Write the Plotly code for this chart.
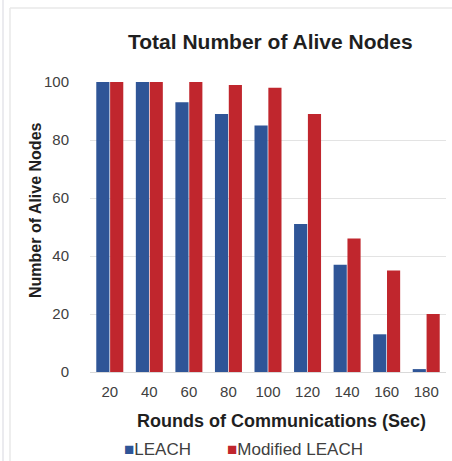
import plotly.graph_objects as go

rounds = ["20", "40", "60", "80", "100", "120", "140", "160", "180"]
leach = [100, 100, 93, 89, 85, 51, 37, 13, 1]
modified_leach = [100, 100, 100, 99, 98, 89, 46, 35, 20]
y_ticks = [0, 20, 40, 60, 80, 100]

BLUE = "#2F5597"
RED = "#C0262D"

W, H = 452, 461
L, R, T, B = 90, 6, 82, 89
pw, ph = W - L - R, H - T - B

def px(x):
    return (x - L) / pw

def py(y):
    return (H - B - y) / ph

fig = go.Figure()
fig.add_trace(go.Bar(x=rounds, y=leach, name="LEACH", marker=dict(color=BLUE, line=dict(width=0))))
fig.add_trace(go.Bar(x=rounds, y=modified_leach, name="Modified LEACH", marker=dict(color=RED, line=dict(width=0))))

fig.update_layout(
    width=W, height=H,
    margin=dict(l=L, r=R, t=T, b=B, pad=0),
    paper_bgcolor="white", plot_bgcolor="white",
    barmode="group", bargap=0.3, bargroupgap=0.05,
    showlegend=False,
    font=dict(family="Liberation Sans, Arial, sans-serif", size=15, color="#595959"),
    xaxis=dict(type="category", showgrid=False, showline=True, linecolor="#D9D9D9", linewidth=1,
               ticks="", tickfont=dict(size=15, color="#404040"), ticklabelstandoff=6),
    yaxis=dict(range=[0, 100], tickvals=y_ticks, showgrid=True, gridcolor="#E3E3E3", gridwidth=1,
               zeroline=False, showline=False, ticks="", tickfont=dict(size=15, color="#404040"),
               ticklabelstandoff=20),
)

annos = [
    dict(text="<b>Total Number of Alive Nodes</b>", x=px(270), y=py(41), font=dict(size=21, color="#1F1F1F")),
    dict(text="<b>Number of Alive Nodes</b>", x=px(35), y=py(210), textangle=-90, font=dict(size=16, color="#1F1F1F")),
    dict(text="<b>Rounds of Communications (Sec)</b>", x=px(281), y=py(421), font=dict(size=18, color="#1F1F1F")),
    dict(text=f"<span style='color:{BLUE}'>■</span>LEACH", x=px(157), y=py(450), font=dict(size=17, color="#404040")),
    dict(text=f"<span style='color:{RED}'>■</span>Modified LEACH", x=px(295), y=py(450), font=dict(size=17, color="#404040")),
]
for a in annos:
    fig.add_annotation(xref="paper", yref="paper", showarrow=False, xanchor="center", yanchor="middle", **a)

fig.add_shape(type="line", xref="paper", yref="paper", x0=px(3), x1=px(3), y0=py(0), y1=py(H),
              line=dict(color="#E4E4EA", width=1.5))
fig.add_shape(type="line", xref="paper", yref="paper", x0=px(10), x1=px(10), y0=py(8), y1=py(H),
              line=dict(color="#E8E8E8", width=1.5))
fig.add_shape(type="line", xref="paper", yref="paper", x0=px(10), x1=px(W), y0=py(8), y1=py(8),
              line=dict(color="#E8E8E8", width=1.5))

fig.write_html("out.html", config={"displayModeBar": False},
               post_script="document.body.style.margin='0';document.body.style.overflow='hidden';")
